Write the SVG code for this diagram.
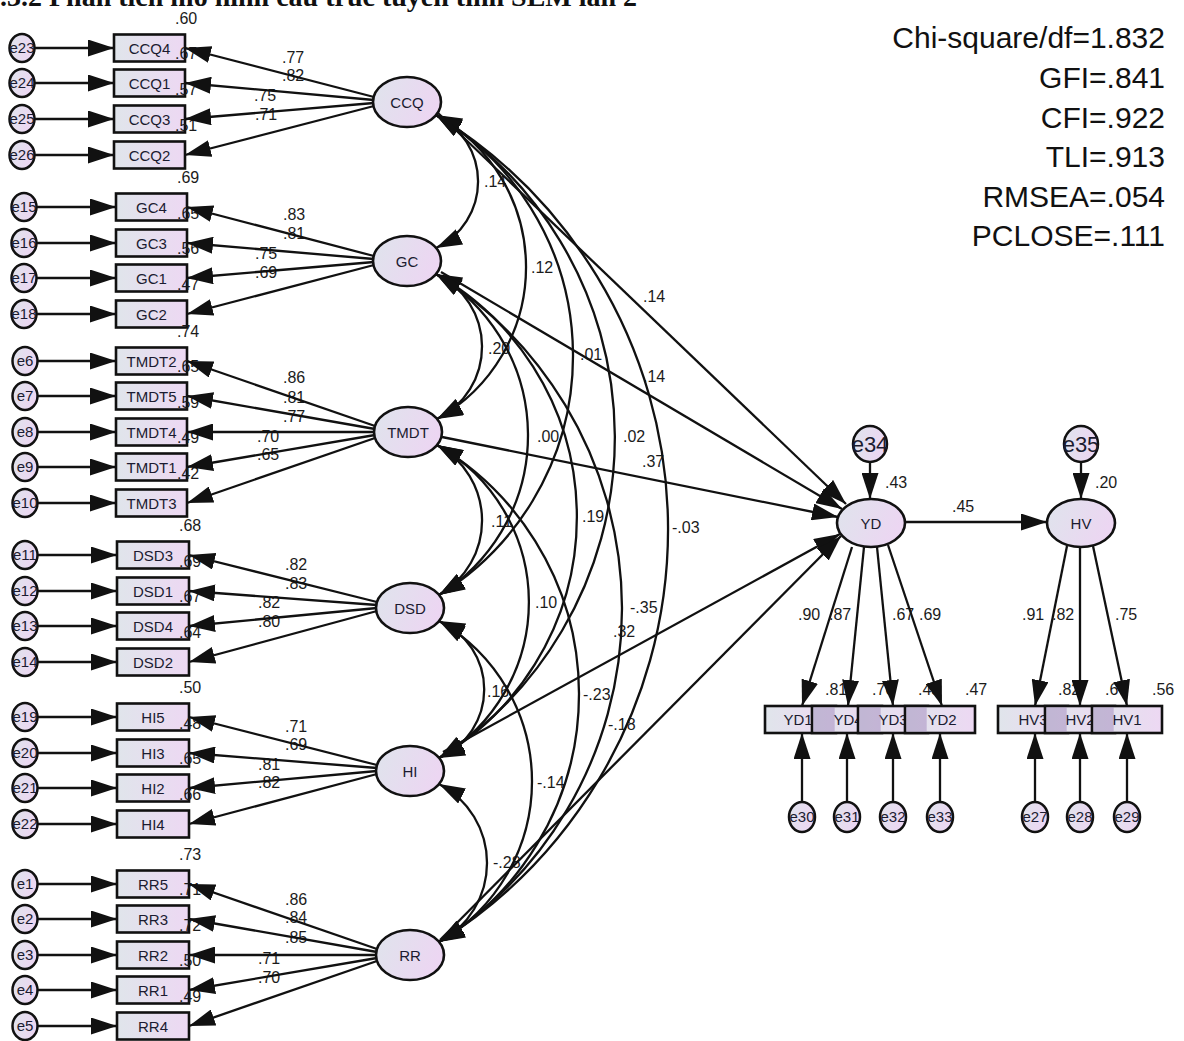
<svg xmlns="http://www.w3.org/2000/svg" width="1184" height="1041" viewBox="0 0 1184 1041">
<defs>
<linearGradient id="gE" x1="0" y1="0" x2="1" y2="0.3"><stop offset="0" stop-color="#dfe4ec"/><stop offset="1" stop-color="#ecd6f2"/></linearGradient>
<linearGradient id="gB" x1="0" y1="0" x2="1" y2="0"><stop offset="0" stop-color="#e0e5eb"/><stop offset="1" stop-color="#edd8f3"/></linearGradient>
<marker id="ah" viewBox="0 0 26 17" refX="26" refY="8.5" markerWidth="26" markerHeight="17" markerUnits="userSpaceOnUse" orient="auto-start-reverse"><path d="M0,0 L26,8.5 L0,17 z" fill="#111"/></marker>
<style>
.lat{fill:url(#gE);stroke:#111;stroke-width:2.6}
.err{fill:url(#gE);stroke:#111;stroke-width:2.5}
.box{fill:url(#gB);stroke:#111;stroke-width:2.6}
.ov{fill:#9c7fb8;fill-opacity:0.45;stroke:none}
.t{font-family:"Liberation Sans",Arial,sans-serif;font-size:15px;fill:#1b1b30;text-anchor:middle}
.tb{font-family:"Liberation Sans",Arial,sans-serif;font-size:22px;fill:#1b1b30;text-anchor:middle}
.n{font-family:"Liberation Sans",Arial,sans-serif;font-size:16px;fill:#1b1b1b}
.fit{font-family:"Liberation Sans",Arial,sans-serif;font-size:30px;fill:#111;text-anchor:end}
.ttl{font-family:"Liberation Serif","Times New Roman",serif;font-size:28px;font-weight:bold;fill:#111}
#connectors path{fill:none;stroke:#111;stroke-width:2.3}
.a{marker-end:url(#ah)}
.d{marker-start:url(#ah);marker-end:url(#ah)}
</style>
</defs>
<rect width="1184" height="1041" fill="#fff"/>
<text class="ttl" x="0" y="6">.3.2 Phân tích mô hình cấu trúc tuyến tính SEM lần 2</text>

<g id="nodes">
<!-- CCQ block -->
<g id="n-e23"><ellipse class="err" cx="22" cy="48" rx="12.5" ry="14"/><text class="t" x="22" y="53">e23</text></g>
<g id="n-e24"><ellipse class="err" cx="22" cy="83" rx="12.5" ry="14"/><text class="t" x="22" y="88">e24</text></g>
<g id="n-e25"><ellipse class="err" cx="22" cy="119" rx="12.5" ry="14"/><text class="t" x="22" y="124">e25</text></g>
<g id="n-e26"><ellipse class="err" cx="22" cy="155" rx="12.5" ry="14"/><text class="t" x="22" y="160">e26</text></g>
<g id="n-CCQ4"><rect class="box" x="114" y="34.5" width="71" height="27"/><text class="t" x="149.5" y="53.5">CCQ4</text></g>
<g id="n-CCQ1"><rect class="box" x="114" y="69.5" width="71" height="27"/><text class="t" x="149.5" y="88.5">CCQ1</text></g>
<g id="n-CCQ3"><rect class="box" x="114" y="105.5" width="71" height="27"/><text class="t" x="149.5" y="124.5">CCQ3</text></g>
<g id="n-CCQ2"><rect class="box" x="114" y="141.5" width="71" height="27"/><text class="t" x="149.5" y="160.5">CCQ2</text></g>
<!-- GC block -->
<g id="n-e15"><ellipse class="err" cx="24" cy="207" rx="12.5" ry="14"/><text class="t" x="24" y="212">e15</text></g>
<g id="n-e16"><ellipse class="err" cx="24" cy="243" rx="12.5" ry="14"/><text class="t" x="24" y="248">e16</text></g>
<g id="n-e17"><ellipse class="err" cx="24" cy="278" rx="12.5" ry="14"/><text class="t" x="24" y="283">e17</text></g>
<g id="n-e18"><ellipse class="err" cx="24" cy="314" rx="12.5" ry="14"/><text class="t" x="24" y="319">e18</text></g>
<g id="n-GC4"><rect class="box" x="116" y="193.5" width="71" height="27"/><text class="t" x="151.5" y="212.5">GC4</text></g>
<g id="n-GC3"><rect class="box" x="116" y="229.5" width="71" height="27"/><text class="t" x="151.5" y="248.5">GC3</text></g>
<g id="n-GC1"><rect class="box" x="116" y="264.5" width="71" height="27"/><text class="t" x="151.5" y="283.5">GC1</text></g>
<g id="n-GC2"><rect class="box" x="116" y="300.5" width="71" height="27"/><text class="t" x="151.5" y="319.5">GC2</text></g>
<!-- TMDT block -->
<g id="n-e6"><ellipse class="err" cx="25" cy="361" rx="12.5" ry="14"/><text class="t" x="25" y="366">e6</text></g>
<g id="n-e7"><ellipse class="err" cx="25" cy="396" rx="12.5" ry="14"/><text class="t" x="25" y="401">e7</text></g>
<g id="n-e8"><ellipse class="err" cx="25" cy="432" rx="12.5" ry="14"/><text class="t" x="25" y="437">e8</text></g>
<g id="n-e9"><ellipse class="err" cx="25" cy="467" rx="12.5" ry="14"/><text class="t" x="25" y="472">e9</text></g>
<g id="n-e10"><ellipse class="err" cx="25" cy="503" rx="12.5" ry="14"/><text class="t" x="25" y="508">e10</text></g>
<g id="n-TMDT2"><rect class="box" x="116" y="347.5" width="71" height="27"/><text class="t" x="151.5" y="366.5">TMDT2</text></g>
<g id="n-TMDT5"><rect class="box" x="116" y="382.5" width="71" height="27"/><text class="t" x="151.5" y="401.5">TMDT5</text></g>
<g id="n-TMDT4"><rect class="box" x="116" y="418.5" width="71" height="27"/><text class="t" x="151.5" y="437.5">TMDT4</text></g>
<g id="n-TMDT1"><rect class="box" x="116" y="453.5" width="71" height="27"/><text class="t" x="151.5" y="472.5">TMDT1</text></g>
<g id="n-TMDT3"><rect class="box" x="116" y="489.5" width="71" height="27"/><text class="t" x="151.5" y="508.5">TMDT3</text></g>
<!-- DSD block -->
<g id="n-e11"><ellipse class="err" cx="25" cy="555" rx="12.5" ry="14"/><text class="t" x="25" y="560">e11</text></g>
<g id="n-e12"><ellipse class="err" cx="25" cy="591" rx="12.5" ry="14"/><text class="t" x="25" y="596">e12</text></g>
<g id="n-e13"><ellipse class="err" cx="25" cy="626" rx="12.5" ry="14"/><text class="t" x="25" y="631">e13</text></g>
<g id="n-e14"><ellipse class="err" cx="25" cy="662" rx="12.5" ry="14"/><text class="t" x="25" y="667">e14</text></g>
<g id="n-DSD3"><rect class="box" x="117" y="541.5" width="72" height="27"/><text class="t" x="153" y="560.5">DSD3</text></g>
<g id="n-DSD1"><rect class="box" x="117" y="577.5" width="72" height="27"/><text class="t" x="153" y="596.5">DSD1</text></g>
<g id="n-DSD4"><rect class="box" x="117" y="612.5" width="72" height="27"/><text class="t" x="153" y="631.5">DSD4</text></g>
<g id="n-DSD2"><rect class="box" x="117" y="648.5" width="72" height="27"/><text class="t" x="153" y="667.5">DSD2</text></g>
<!-- HI block -->
<g id="n-e19"><ellipse class="err" cx="25" cy="717" rx="12.5" ry="14"/><text class="t" x="25" y="722">e19</text></g>
<g id="n-e20"><ellipse class="err" cx="25" cy="753" rx="12.5" ry="14"/><text class="t" x="25" y="758">e20</text></g>
<g id="n-e21"><ellipse class="err" cx="25" cy="788" rx="12.5" ry="14"/><text class="t" x="25" y="793">e21</text></g>
<g id="n-e22"><ellipse class="err" cx="25" cy="824" rx="12.5" ry="14"/><text class="t" x="25" y="829">e22</text></g>
<g id="n-HI5"><rect class="box" x="117" y="703.5" width="72" height="27"/><text class="t" x="153" y="722.5">HI5</text></g>
<g id="n-HI3"><rect class="box" x="117" y="739.5" width="72" height="27"/><text class="t" x="153" y="758.5">HI3</text></g>
<g id="n-HI2"><rect class="box" x="117" y="774.5" width="72" height="27"/><text class="t" x="153" y="793.5">HI2</text></g>
<g id="n-HI4"><rect class="box" x="117" y="810.5" width="72" height="27"/><text class="t" x="153" y="829.5">HI4</text></g>
<!-- RR block -->
<g id="n-e1"><ellipse class="err" cx="25" cy="884" rx="12.5" ry="14"/><text class="t" x="25" y="889">e1</text></g>
<g id="n-e2"><ellipse class="err" cx="25" cy="919" rx="12.5" ry="14"/><text class="t" x="25" y="924">e2</text></g>
<g id="n-e3"><ellipse class="err" cx="25" cy="955" rx="12.5" ry="14"/><text class="t" x="25" y="960">e3</text></g>
<g id="n-e4"><ellipse class="err" cx="25" cy="990" rx="12.5" ry="14"/><text class="t" x="25" y="995">e4</text></g>
<g id="n-e5"><ellipse class="err" cx="25" cy="1026" rx="12.5" ry="14"/><text class="t" x="25" y="1031">e5</text></g>
<g id="n-RR5"><rect class="box" x="117" y="870.5" width="72" height="27"/><text class="t" x="153" y="889.5">RR5</text></g>
<g id="n-RR3"><rect class="box" x="117" y="905.5" width="72" height="27"/><text class="t" x="153" y="924.5">RR3</text></g>
<g id="n-RR2"><rect class="box" x="117" y="941.5" width="72" height="27"/><text class="t" x="153" y="960.5">RR2</text></g>
<g id="n-RR1"><rect class="box" x="117" y="976.5" width="72" height="27"/><text class="t" x="153" y="995.5">RR1</text></g>
<g id="n-RR4"><rect class="box" x="117" y="1012.5" width="72" height="27"/><text class="t" x="153" y="1031.5">RR4</text></g>
<!-- latent -->
<g id="n-CCQ"><ellipse class="lat" cx="407" cy="102" rx="34" ry="25"/><text class="t" x="407" y="107.5">CCQ</text></g>
<g id="n-GC"><ellipse class="lat" cx="407" cy="261" rx="34" ry="25"/><text class="t" x="407" y="266.5">GC</text></g>
<g id="n-TMDT"><ellipse class="lat" cx="408" cy="432" rx="34" ry="25"/><text class="t" x="408" y="437.5">TMDT</text></g>
<g id="n-DSD"><ellipse class="lat" cx="410" cy="608" rx="34" ry="25"/><text class="t" x="410" y="613.5">DSD</text></g>
<g id="n-HI"><ellipse class="lat" cx="410" cy="771" rx="34" ry="25"/><text class="t" x="410" y="776.5">HI</text></g>
<g id="n-RR"><ellipse class="lat" cx="410" cy="955" rx="34" ry="25"/><text class="t" x="410" y="960.5">RR</text></g>
<g id="n-YD"><ellipse class="lat" cx="871" cy="523" rx="34" ry="24"/><text class="t" x="871" y="528.5">YD</text></g>
<g id="n-HV"><ellipse class="lat" cx="1081" cy="523" rx="34" ry="24"/><text class="t" x="1081" y="528.5">HV</text></g>
<g id="n-e34"><ellipse class="err" cx="870" cy="444" rx="17" ry="18"/><text class="tb" x="870" y="452">e34</text></g>
<g id="n-e35"><ellipse class="err" cx="1081" cy="444" rx="17" ry="18"/><text class="tb" x="1081" y="452">e35</text></g>
<!-- YD / HV indicators -->
<g id="n-YD1"><rect class="box" x="765" y="706" width="71" height="27"/><text class="t" x="798" y="725">YD1</text></g>
<g id="n-YD4"><rect class="box" x="812" y="706" width="70" height="27"/><text class="t" x="848" y="725">YD4</text></g>
<g id="n-YD3"><rect class="box" x="858" y="706" width="70" height="27"/><text class="t" x="893" y="725">YD3</text></g>
<g id="n-YD2"><rect class="box" x="905" y="706" width="70" height="27"/><text class="t" x="942" y="725">YD2</text></g>
<g id="n-HV3"><rect class="box" x="998" y="706" width="70" height="27"/><text class="t" x="1033" y="725">HV3</text></g>
<g id="n-HV2"><rect class="box" x="1045" y="706" width="70" height="27"/><text class="t" x="1080" y="725">HV2</text></g>
<g id="n-HV1"><rect class="box" x="1092" y="706" width="70" height="27"/><text class="t" x="1127" y="725">HV1</text></g>
<g id="overlaps">
<rect class="ov" x="813.3" y="707.3" width="21.4" height="24.4"/>
<rect class="ov" x="859.3" y="707.3" width="21.4" height="24.4"/>
<rect class="ov" x="906.3" y="707.3" width="20.4" height="24.4"/>
<rect class="ov" x="1046.3" y="707.3" width="20.4" height="24.4"/>
<rect class="ov" x="1093.3" y="707.3" width="20.4" height="24.4"/>
</g>
<g id="n-e30"><ellipse class="err" cx="802" cy="817" rx="13" ry="15"/><text class="t" x="802" y="822">e30</text></g>
<g id="n-e31"><ellipse class="err" cx="847" cy="817" rx="13" ry="15"/><text class="t" x="847" y="822">e31</text></g>
<g id="n-e32"><ellipse class="err" cx="893" cy="817" rx="13" ry="15"/><text class="t" x="893" y="822">e32</text></g>
<g id="n-e33"><ellipse class="err" cx="940" cy="817" rx="13" ry="15"/><text class="t" x="940" y="822">e33</text></g>
<g id="n-e27"><ellipse class="err" cx="1035" cy="817" rx="13" ry="15"/><text class="t" x="1035" y="822">e27</text></g>
<g id="n-e28"><ellipse class="err" cx="1080" cy="817" rx="13" ry="15"/><text class="t" x="1080" y="822">e28</text></g>
<g id="n-e29"><ellipse class="err" cx="1127" cy="817" rx="13" ry="15"/><text class="t" x="1127" y="822">e29</text></g>
</g>

<g id="labels" class="n">
<!-- R squared -->
<text x="175" y="24">.60</text><text x="175" y="59">.67</text><text x="175" y="95">.57</text><text x="175" y="131">.51</text>
<text x="177" y="183">.69</text><text x="177" y="219">.65</text><text x="177" y="254">.56</text><text x="177" y="290">.47</text>
<text x="177" y="337">.74</text><text x="177" y="372">.65</text><text x="177" y="408">.59</text><text x="177" y="443">.49</text><text x="177" y="479">.42</text>
<text x="179" y="531">.68</text><text x="179" y="567">.69</text><text x="179" y="602">.67</text><text x="179" y="638">.64</text>
<text x="179" y="693">.50</text><text x="179" y="729">.48</text><text x="179" y="764">.65</text><text x="179" y="800">.66</text>
<text x="179" y="860">.73</text><text x="179" y="895">.71</text><text x="179" y="931">.72</text><text x="179" y="966">.50</text><text x="179" y="1002">.49</text>
<!-- loadings -->
<text x="282" y="63">.77</text><text x="282" y="81">.82</text><text x="254" y="101">.75</text><text x="255" y="120">.71</text>
<text x="283" y="220">.83</text><text x="283" y="239">.81</text><text x="255" y="259">.75</text><text x="255" y="278">.69</text>
<text x="283" y="383">.86</text><text x="283" y="403">.81</text><text x="283" y="422">.77</text><text x="257" y="442">.70</text><text x="257" y="460">.65</text>
<text x="285" y="570">.82</text><text x="285" y="589">.83</text><text x="258" y="608">.82</text><text x="258" y="627">.80</text>
<text x="285" y="732">.71</text><text x="285" y="750">.69</text><text x="258" y="770">.81</text><text x="258" y="788">.82</text>
<text x="285" y="905">.86</text><text x="285" y="923">.84</text><text x="285" y="943">.85</text><text x="258" y="964">.71</text><text x="258" y="983">.70</text>
<!-- correlations -->
<text x="484" y="187">.14</text><text x="531" y="273">.12</text><text x="488" y="354">.20</text><text x="580" y="360">.01</text>
<text x="537" y="442">.00</text><text x="623" y="442">.02</text><text x="491" y="527">.11</text><text x="582" y="522">.19</text>
<text x="672" y="533">-.03</text><text x="535" y="608">.10</text><text x="630" y="613">-.35</text><text x="487" y="697">.16</text>
<text x="583" y="700">-.23</text><text x="537" y="788">-.14</text><text x="493" y="868">-.28</text>
<!-- structural -->
<text x="643" y="302">.14</text><text x="643" y="382">.14</text><text x="642" y="467">.37</text><text x="613" y="637">.32</text><text x="608" y="730">-.18</text>
<text x="952" y="512">.45</text><text x="885" y="488">.43</text><text x="1095" y="488">.20</text>
<text x="798" y="620">.90</text><text x="829" y="620">.87</text><text x="892" y="620">.67</text><text x="919" y="620">.69</text>
<text x="1022" y="620">.91</text><text x="1052" y="620">.82</text><text x="1115" y="620">.75</text>
<text x="825" y="695">.81</text><text x="872" y="695">.76</text><text x="918" y="695">.45</text><text x="965" y="695">.47</text>
<text x="1058" y="695">.82</text><text x="1105" y="695">.67</text><text x="1152" y="695">.56</text>
</g>

<g id="connectors">
<!-- error arrows left -->
<path class="a" d="M34.5,48 L114,48"/><path class="a" d="M34.5,83 L114,83"/><path class="a" d="M34.5,119 L114,119"/><path class="a" d="M34.5,155 L114,155"/>
<path class="a" d="M36.5,207 L116,207"/><path class="a" d="M36.5,243 L116,243"/><path class="a" d="M36.5,278 L116,278"/><path class="a" d="M36.5,314 L116,314"/>
<path class="a" d="M37.5,361 L116,361"/><path class="a" d="M37.5,396 L116,396"/><path class="a" d="M37.5,432 L116,432"/><path class="a" d="M37.5,467 L116,467"/><path class="a" d="M37.5,503 L116,503"/>
<path class="a" d="M37.5,555 L117,555"/><path class="a" d="M37.5,591 L117,591"/><path class="a" d="M37.5,626 L117,626"/><path class="a" d="M37.5,662 L117,662"/>
<path class="a" d="M37.5,717 L117,717"/><path class="a" d="M37.5,753 L117,753"/><path class="a" d="M37.5,788 L117,788"/><path class="a" d="M37.5,824 L117,824"/>
<path class="a" d="M37.5,884 L117,884"/><path class="a" d="M37.5,919 L117,919"/><path class="a" d="M37.5,955 L117,955"/><path class="a" d="M37.5,990 L117,990"/><path class="a" d="M37.5,1026 L117,1026"/>
<!-- loadings -->
<path class="a" d="M374,97 L185,48"/><path class="a" d="M374,100 L185,83"/><path class="a" d="M374,103 L185,119"/><path class="a" d="M374,106 L185,155"/>
<path class="a" d="M374,256 L187,207"/><path class="a" d="M374,259 L187,243"/><path class="a" d="M374,262 L187,278"/><path class="a" d="M374,265 L187,314"/>
<path class="a" d="M375,426 L187,361"/><path class="a" d="M375,429 L187,396"/><path class="a" d="M375,432 L187,432"/><path class="a" d="M375,435 L187,467"/><path class="a" d="M375,438 L187,503"/>
<path class="a" d="M377,602 L189,555"/><path class="a" d="M377,605 L189,591"/><path class="a" d="M377,608 L189,626"/><path class="a" d="M377,611 L189,662"/>
<path class="a" d="M377,765 L189,717"/><path class="a" d="M377,768 L189,753"/><path class="a" d="M377,771 L189,788"/><path class="a" d="M377,774 L189,824"/>
<path class="a" d="M377,949 L189,884"/><path class="a" d="M377,952 L189,919"/><path class="a" d="M377,955 L189,955"/><path class="a" d="M377,958 L189,990"/><path class="a" d="M377,961 L189,1026"/>
<!-- covariances -->
<path class="d" d="M436,115 A73.6,73.6 0 0 1 436,248"/>
<path class="d" d="M436,274 A80.5,80.5 0 0 1 437,419"/>
<path class="d" d="M437,445 A85.9,85.9 0 0 1 439,595"/>
<path class="d" d="M439,621 A74.5,74.5 0 0 1 439,758"/>
<path class="d" d="M439,784 A89,89 0 0 1 439,942"/>
<path class="d" d="M436,115 A173.8,173.8 0 0 1 437,419"/>
<path class="d" d="M436,274 A187.6,187.6 0 0 1 439,595"/>
<path class="d" d="M437,445 A180.2,180.2 0 0 1 439,758"/>
<path class="d" d="M439,621 A185,185 0 0 1 439,942"/>
<path class="d" d="M436,115 A280.3,280.3 0 0 1 439,595"/>
<path class="d" d="M436,274 A279.8,279.8 0 0 1 439,758"/>
<path class="d" d="M437,445 A289.5,289.5 0 0 1 439,942"/>
<path class="d" d="M436,115 A380.1,380.1 0 0 1 439,758"/>
<path class="d" d="M436,274 A394.6,394.6 0 0 1 439,942"/>
<path class="d" d="M436,115 A486.1,486.1 0 0 1 439,942"/>
<!-- structural -->
<path class="a" d="M438,113 L846,504"/>
<path class="a" d="M441,272 L842,509"/>
<path class="a" d="M442,437 L838,517"/>
<path class="a" d="M443,752 L840,534"/>
<path class="a" d="M440,940 L841,536"/>
<path class="a" d="M905,522 L1047,522"/>
<path class="a" d="M870,462 L870,499"/>
<path class="a" d="M1081,462 L1081,499"/>
<path class="a" d="M852,547 L802,706"/>
<path class="a" d="M864,547 L848,706"/>
<path class="a" d="M877,547 L893,706"/>
<path class="a" d="M888,545 L942,706"/>
<path class="a" d="M1067,546 L1035,706"/>
<path class="a" d="M1080,547 L1080,706"/>
<path class="a" d="M1093,546 L1127,706"/>
<path class="a" d="M802,802 L802,733"/>
<path class="a" d="M847,802 L847,733"/>
<path class="a" d="M893,802 L893,733"/>
<path class="a" d="M940,802 L940,733"/>
<path class="a" d="M1035,802 L1035,733"/>
<path class="a" d="M1080,802 L1080,733"/>
<path class="a" d="M1127,802 L1127,733"/>
</g>

<g id="fit">
<text class="fit" x="1165" y="48">Chi-square/df=1.832</text>
<text class="fit" x="1165" y="88">GFI=.841</text>
<text class="fit" x="1165" y="128">CFI=.922</text>
<text class="fit" x="1165" y="167">TLI=.913</text>
<text class="fit" x="1165" y="207">RMSEA=.054</text>
<text class="fit" x="1165" y="246">PCLOSE=.111</text>
</g>
</svg>
